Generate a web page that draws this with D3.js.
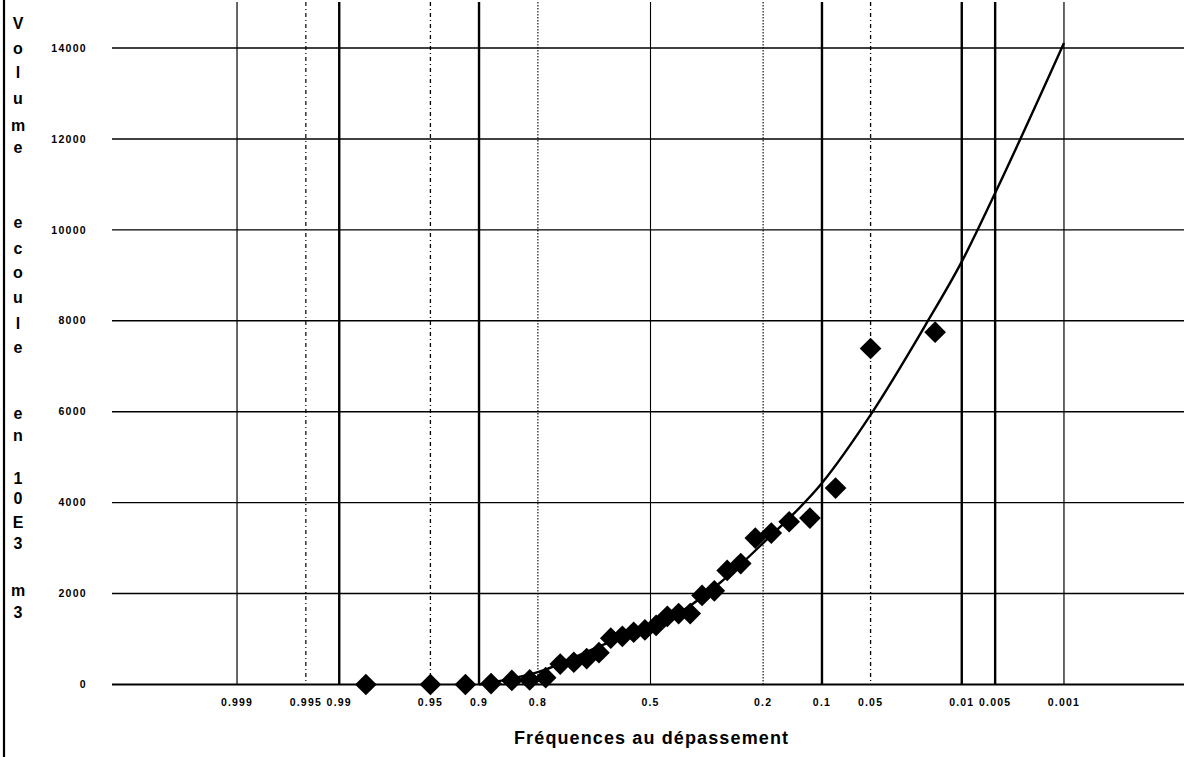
<!DOCTYPE html>
<html><head><meta charset="utf-8">
<script src="https://cdn.jsdelivr.net/npm/d3@7"></script>
<style>body{margin:0;background:#fff}svg{display:block}</style>
</head><body><svg id="c" width="1184" height="757"></svg>
<script>
// ---- data ----
const tickFreqs  = [0.999, 0.995, 0.99, 0.95, 0.9, 0.8, 0.5, 0.2, 0.1, 0.05, 0.01, 0.005, 0.001];
const tickLabels = ["0.999","0.995","0.99","0.95","0.9","0.8","0.5","0.2","0.1","0.05","0.01","0.005","0.001"];
const yTicks     = [0, 2000, 4000, 6000, 8000, 10000, 12000, 14000];
const obsFreq    = [0.9833,0.95,0.9167,0.8833,0.85,0.8167,0.7833,0.75,0.7167,0.6833,0.65,0.6167,0.5833,0.55,0.5167,
                    0.4833,0.45,0.4167,0.3833,0.35,0.3167,0.2833,0.25,0.2167,0.1833,0.15,0.1167,0.0833,0.05,0.0167];
const obsVolume  = [0,0,0,20,90,100,150,450,490,570,700,1020,1060,1150,1200,
                    1300,1500,1560,1560,1960,2060,2510,2660,3220,3330,3580,3660,4320,7390,7750];
const fitFreq    = [0.9, 0.8, 0.63, 0.5, 0.4, 0.3, 0.2, 0.1, 0.05, 0.02, 0.01, 0.005, 0.001];
const fitVolume  = [0, 270, 900, 1250, 1650, 2250, 3110, 4430, 5930, 7900, 9300, 10810, 14110];
const yTitle = "Volume  ecoule  en  10E3  m3";
const xTitle = "Fréquences au dépassement";

// ---- helpers ----
function probit(p){ // inverse standard normal CDF (Acklam)
  const a=[-3.969683028665376e+01,2.209460984245205e+02,-2.759285104469687e+02,1.383577518672690e+02,-3.066479806614716e+01,2.506628277459239e+00];
  const b=[-5.447609879822406e+01,1.615858368580409e+02,-1.556989798598866e+02,6.680131188771972e+01,-1.328068155288572e+01];
  const c=[-7.784894002430293e-03,-3.223964580411365e-01,-2.400758277161838e+00,-2.549732539343734e+00,4.374664141464968e+00,2.938163982698783e+00];
  const d=[7.784695709041462e-03,3.224671290700398e-01,2.445134137142996e+00,3.754408661907416e+00];
  const pl=0.02425, ph=1-pl; let q,r;
  if(p<pl){q=Math.sqrt(-2*Math.log(p));return (((((c[0]*q+c[1])*q+c[2])*q+c[3])*q+c[4])*q+c[5])/((((d[0]*q+d[1])*q+d[2])*q+d[3])*q+1);}
  if(p<=ph){q=p-0.5;r=q*q;return (((((a[0]*r+a[1])*r+a[2])*r+a[3])*r+a[4])*r+a[5])*q/(((((b[0]*r+b[1])*r+b[2])*r+b[3])*r+b[4])*r+1);}
  q=Math.sqrt(-2*Math.log(1-p));return -(((((c[0]*q+c[1])*q+c[2])*q+c[3])*q+c[4])*q+c[5])/((((d[0]*q+d[1])*q+d[2])*q+d[3])*q+1);
}
const zOf = f => probit(1 - f);

const svg = d3.select("#c");
const xz = d3.scaleLinear().domain([-4, 4]).range([650.5 - 4*133.8, 650.5 + 4*133.8]);
const X = f => xz(zOf(f));
const Y = d3.scaleLinear().domain([0, 14000]).range([684.5, 48]);
const plotTop = 2, plotLeft = 112, plotRight = 1184;
const FONT = "Liberation Sans, Arial, sans-serif";

// left border
svg.append("line").attr("x1",4).attr("x2",4).attr("y1",0).attr("y2",757)
  .attr("stroke","#000").attr("stroke-width",2.2);

// horizontal grid
svg.append("g").selectAll("line").data(yTicks).join("line")
  .attr("x1",plotLeft).attr("x2",plotRight).attr("y1",d=>Y(d)).attr("y2",d=>Y(d))
  .attr("stroke","#000").attr("stroke-width",d=>d===0?1.8:1.4);

// vertical grid
const style = {
  "0.999":{w:1.2}, "0.995":{w:1.2,dash:"4,3,1,3"}, "0.99":{w:2.4}, "0.95":{w:1.3,dash:"4,3,1,3"},
  "0.9":{w:2.4}, "0.8":{w:1.1,dash:"1.5,1.5"}, "0.5":{w:1.1}, "0.2":{w:1.1,dash:"1.5,1.5"},
  "0.1":{w:2.4}, "0.05":{w:1.3,dash:"4,3,1,3"}, "0.01":{w:2.4}, "0.005":{w:2.4}, "0.001":{w:1.2}
};
svg.append("g").selectAll("line").data(tickFreqs).join("line")
  .attr("x1",d=>X(d)).attr("x2",d=>X(d)).attr("y1",plotTop).attr("y2",Y(0))
  .attr("stroke","#000")
  .attr("stroke-width",(d,i)=>style[tickLabels[i]].w)
  .attr("stroke-dasharray",(d,i)=>style[tickLabels[i]].dash||null);

// y tick labels
svg.append("g").selectAll("text").data(yTicks).join("text")
  .attr("x",87).attr("y",d=>Y(d)).attr("dy","0.35em").attr("text-anchor","end")
  .attr("font-family",FONT).attr("font-weight","bold")
  .attr("font-size",10.5).attr("letter-spacing",1.3).text(d=>d);

// x tick labels
svg.append("g").selectAll("text").data(tickFreqs).join("text")
  .attr("x",d=>X(d)).attr("y",702).attr("dy","0.35em").attr("text-anchor","middle")
  .attr("font-family",FONT).attr("font-weight","bold")
  .attr("font-size",10.5).attr("letter-spacing",1.2).text((d,i)=>tickLabels[i]);

// fitted curve
svg.append("path")
  .attr("d", d3.line().x((d,i)=>X(fitFreq[i])).y(d=>Y(d)).curve(d3.curveMonotoneX)(fitVolume))
  .attr("fill","none").attr("stroke","#000").attr("stroke-width",2.4);

// observations
const sym = d3.symbol().type(d3.symbolSquare).size(235);
svg.append("g").selectAll("path").data(obsVolume).join("path")
  .attr("d", sym)
  .attr("transform",(d,i)=>`translate(${X(obsFreq[i])},${Y(d)}) rotate(45)`)
  .attr("fill","#000");

// y title, stacked letters
const yPos = [23,48,72,98,125,147,null,null,222,248,272,297,323,347,null,null,413,435,null,null,478,498,522,543,null,null,590,612];
const chars = yTitle.split("");
const tt = svg.append("g").attr("font-family",FONT).attr("font-weight","bold").attr("font-size",16);
chars.forEach((ch,i)=>{ if(ch!==" " && yPos[i]!=null) tt.append("text").attr("x",18).attr("y",yPos[i]).attr("dy","0.35em").attr("text-anchor","middle").text(ch); });

// x title
svg.append("text").attr("x",651).attr("y",738).attr("dy","0.35em").attr("text-anchor","middle")
  .attr("font-family",FONT).attr("font-size",18).attr("font-weight","bold")
  .attr("textLength",274).attr("lengthAdjust","spacing").text(xTitle);
</script></body></html>
